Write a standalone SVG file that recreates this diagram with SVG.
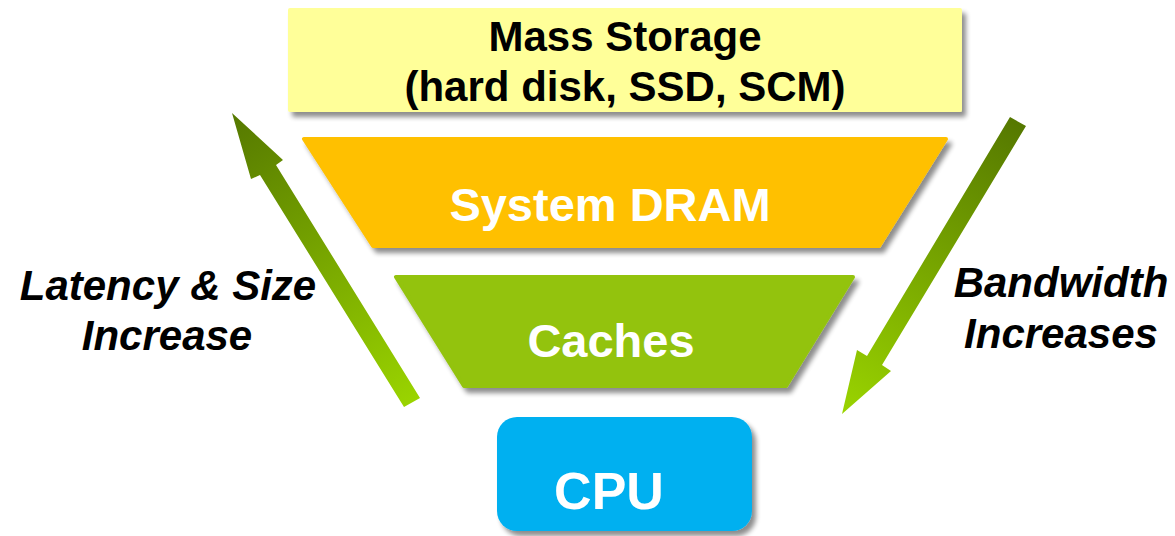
<svg xmlns="http://www.w3.org/2000/svg" width="1175" height="536" viewBox="0 0 1175 536">
  <defs>
    <filter id="shadow" x="-10%" y="-10%" width="130%" height="140%">
      <feGaussianBlur in="SourceAlpha" stdDeviation="2.5"/>
      <feOffset dx="4" dy="5" result="off"/>
      <feComponentTransfer><feFuncA type="linear" slope="0.45"/></feComponentTransfer>
      <feMerge><feMergeNode/><feMergeNode in="SourceGraphic"/></feMerge>
    </filter>
    <linearGradient id="gradUp" gradientUnits="userSpaceOnUse" x1="412" y1="403" x2="232" y2="113">
      <stop offset="0" stop-color="#9AD400"/>
      <stop offset="1" stop-color="#557800"/>
    </linearGradient>
    <linearGradient id="gradDown" gradientUnits="userSpaceOnUse" x1="1018" y1="121" x2="842" y2="414">
      <stop offset="0" stop-color="#557800"/>
      <stop offset="1" stop-color="#9AD400"/>
    </linearGradient>
    <style>
      .lbl { font-family: "Liberation Sans", Arial, sans-serif; font-weight: bold; text-anchor: middle; }
      .dark { fill: #000000; }
      .light { fill: #FFFFFF; }
      .side { font-family: "Liberation Sans", Arial, sans-serif; font-weight: bold; font-style: italic; font-size: 42px; text-anchor: middle; fill: #000000; }
      .tier { stroke-linejoin: round; stroke-width: 4; }
    </style>
  </defs>

  <rect width="1175" height="536" fill="#FFFFFF"/>

  <!-- connectors: the two trend arrows -->
  <g id="connectors">
    <polygon id="arrow-up" fill="url(#gradUp)" points="232,113 283,160 276,165 420,398 404,407 260,175 251,179"/>
    <polygon id="arrow-down" fill="url(#gradDown)" points="1010,117 1026,126 882,365 891,371 842,414 857,350 867,356"/>
  </g>

  <g id="mass-storage">
    <rect x="288" y="8" width="674" height="104" rx="2" fill="#FFFF99" filter="url(#shadow)"/>
    <text class="lbl dark" x="625" y="51" font-size="42">Mass Storage</text>
    <text class="lbl dark" x="625" y="101" font-size="42">(hard disk, SSD, SCM)</text>
  </g>

  <g id="system-dram">
    <polygon class="tier" fill="#FFC000" stroke="#FFC000" filter="url(#shadow)" points="304,139 946,139 879,246 373,246"/>
    <text class="lbl light" x="610" y="221" font-size="47">System DRAM</text>
  </g>

  <g id="caches">
    <polygon class="tier" fill="#93C30B" stroke="#93C30B" filter="url(#shadow)" points="396,277 853,277 786,386 464,386"/>
    <text class="lbl light" x="611" y="357" font-size="47">Caches</text>
  </g>

  <g id="cpu">
    <rect x="497" y="417" width="255" height="114" rx="20" fill="#00B0F0" filter="url(#shadow)"/>
    <text class="lbl light" x="609" y="509" font-size="52">CPU</text>
  </g>

  <g id="label-latency">
    <text class="side" x="168" y="300">Latency &amp; Size</text>
    <text class="side" x="167" y="350">Increase</text>
  </g>

  <g id="label-bandwidth">
    <text class="side" x="1061" y="297">Bandwidth</text>
    <text class="side" x="1061" y="348">Increases</text>
  </g>
</svg>
